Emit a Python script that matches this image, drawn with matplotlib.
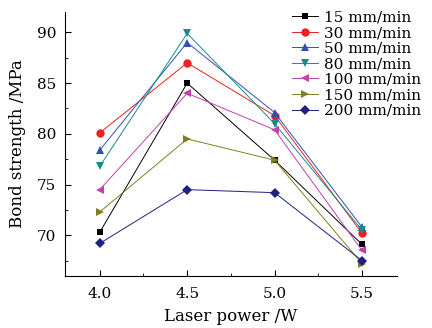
import matplotlib
matplotlib.use("Agg")
import matplotlib.pyplot as plt
from matplotlib.ticker import MultipleLocator

plt.rcParams['font.family'] = ['DejaVu Serif']

power = [4.0, 4.5, 5.0, 5.5]
labels = ['15 mm/min', '30 mm/min', '50 mm/min', '80 mm/min',
          '100 mm/min', '150 mm/min', '200 mm/min']
s15 = [70.3, 85.0, 77.4, 69.1]
s30 = [80.1, 87.0, 81.8, 70.2]
s50 = [78.4, 89.0, 82.1, 70.8]
s80 = [76.8, 89.9, 81.0, 70.5]
s100 = [74.5, 84.0, 80.4, 68.5]
s150 = [72.3, 79.5, 77.4, 67.2]
s200 = [69.2, 74.5, 74.2, 67.5]
series = [s15, s30, s50, s80, s100, s150, s200]

colors = ['#000000', '#f02020', '#3050b8', '#1a8a8a', '#c040b0', '#808020', '#202080']
markers = ['s', 'o', '^', 'v', '<', '>', 'D']
msizes = [5, 6, 6, 6, 6, 6, 5]

fig = plt.figure(figsize=(4.32, 3.28), dpi=100)
ax = fig.add_axes([0.150, 0.159, 0.769, 0.804])

for y, lab, c, m, ms in zip(series, labels, colors, markers, msizes):
    ax.plot(power, y, color=c, marker=m, markersize=ms, lw=0.7,
            label=lab, markeredgewidth=0)

ax.set_xlim(3.8, 5.7)
ax.set_ylim(66, 92)
ax.set_xticks(power)
ax.set_yticks([70, 75, 80, 85, 90])
ax.xaxis.set_minor_locator(MultipleLocator(0.25))
ax.yaxis.set_minor_locator(MultipleLocator(2.5))
ax.tick_params(direction='in', which='both', labelsize=11)
ax.tick_params(which='major', length=4)
ax.tick_params(which='minor', length=2.5)
ax.tick_params(axis='x', pad=8)
ax.tick_params(axis='y', pad=6)
for s in ['top', 'right']:
    ax.spines[s].set_visible(False)
ax.set_xlabel('Laser power /W', fontsize=12, labelpad=5)
ax.set_ylabel('Bond strength /MPa', fontsize=12, labelpad=8)

fig.legend(loc='upper right', bbox_to_anchor=(1.0, 1.0), frameon=False,
           fontsize=11, handlelength=1.7, handletextpad=0.4,
           labelspacing=0.1, borderpad=0.2)

fig.savefig('out.png', dpi=100)
